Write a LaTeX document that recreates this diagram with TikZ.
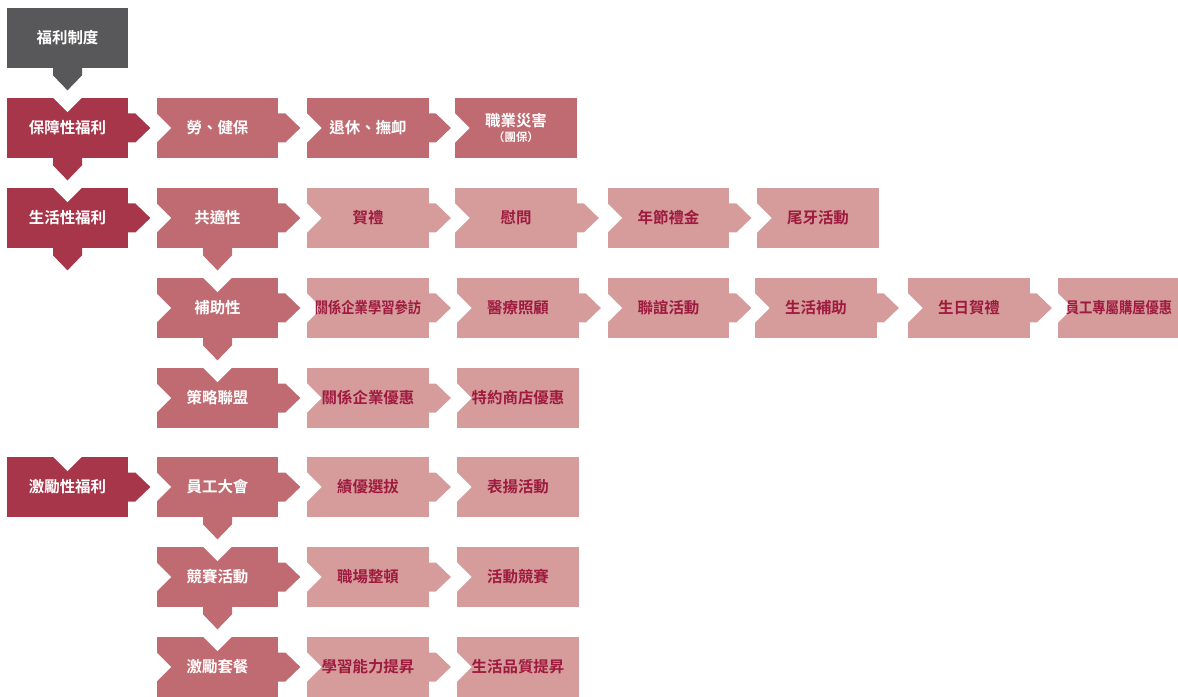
\documentclass[tikz,border=0pt]{standalone}
\usepackage{fontspec}
\usepackage{graphicx}
\usetikzlibrary{backgrounds}
\newfontfamily\cjk{Noto Sans CJK TC Bold}
\definecolor{headgray}{RGB}{88,88,90}
\definecolor{lvonered}{RGB}{168,54,74}
\definecolor{lvtwored}{RGB}{192,107,113}
\definecolor{lvthreepink}{RGB}{213,156,155}
\definecolor{lvthreetext}{RGB}{158,26,62}

\tikzset{
  welfare/.style={minimum width=24.2mm, minimum height=12mm, inner sep=0pt,
    text=white, font=\cjk\fontsize{8.8pt}{10pt}\selectfont},
  lvthree/.style={welfare, text=lvthreetext},
}

% arrow and notch pieces, in pixel units of the picture
\newcommand\toright[2]{\fill[#2] (#1.east) ++(-0.5,-14.5) -- ++(7.5,0) -- ++(15,14.5) -- ++(-15,14.5) -- ++(-7.5,0) -- cycle;}
\newcommand\todown[2]{\fill[#2] (#1.south) ++(-14.5,-0.5) -- ++(0,7.5) -- ++(14.5,15) -- ++(14.5,-15) -- ++(0,-7.5) -- cycle;}
\newcommand\leftcut[1]{\fill[white] (#1.west) ++(-1,-15.5) -- ++(15.5,15.5) -- ++(-15.5,15.5) -- cycle;}
\newcommand\topcut[1]{\fill[white] (#1.north) ++(-15.5,-1) -- ++(15.5,15.5) -- ++(15.5,-15.5) -- cycle;}
\newcommand\narrow[1]{\scalebox{0.86}[1]{#1}}

\begin{document}
\begin{tikzpicture}[x=0.2mm, y=-0.2mm]
  \useasboundingbox (0,0) rectangle (1178,697);

  \node[welfare] (sys) at (67.5,38) {福利制度};

  % row 1
  \node[welfare] (prot) at (67.5,128) {保障性福利};
  \node[welfare] (ins) at (217.5,128) {勞、健保};
  \node[welfare] (ret) at (368,128) {退休、撫卹};
  \node[welfare, align=center] (occ) at (516,128)
    {職業災害\\[-1pt]{\fontsize{6.5pt}{7pt}\selectfont （團保）}};

  % row 2
  \node[welfare] (life) at (67.5,218) {生活性福利};
  \node[welfare] (gen) at (217.5,218) {共適性};
  \node[lvthree] (gift) at (368,218) {賀禮};
  \node[lvthree] (care) at (516,218) {慰問};
  \node[lvthree] (fest) at (668.5,218) {年節禮金};
  \node[lvthree] (party) at (818,218) {尾牙活動};

  % row 3
  \node[welfare] (aid) at (217.5,308) {補助性};
  \node[lvthree] (visit) at (368,308) {\narrow{關係企業學習參訪}};
  \node[lvthree] (med) at (518,308) {醫療照顧};
  \node[lvthree] (club) at (668.5,308) {聯誼活動};
  \node[lvthree] (subsidy) at (816,308) {生活補助};
  \node[lvthree] (bday) at (969,308) {生日賀禮};
  \node[lvthree] (house) at (1119,308) {\narrow{員工專屬購屋優惠}};

  % row 4
  \node[welfare] (ally) at (217.5,398) {策略聯盟};
  \node[lvthree] (corp) at (368,398) {關係企業優惠};
  \node[lvthree] (shop) at (518,398) {特約商店優惠};

  % row 5
  \node[welfare] (motiv) at (67.5,487) {激勵性福利};
  \node[welfare] (meet) at (217.5,487) {員工大會};
  \node[lvthree] (merit) at (368,487) {績優選拔};
  \node[lvthree] (praise) at (518,487) {表揚活動};

  % row 6
  \node[welfare] (contest) at (217.5,577) {競賽活動};
  \node[lvthree] (tidy) at (368,577) {職場整頓};
  \node[lvthree] (game) at (518,577) {活動競賽};

  % row 7
  \node[welfare] (pack) at (217.5,667) {激勵套餐};
  \node[lvthree] (learn) at (368,667) {學習能力提昇};
  \node[lvthree] (quality) at (518,667) {生活品質提昇};

  \begin{scope}[on background layer]
    % box fills
    \fill[headgray] (sys.north west) rectangle (sys.south east);
    \foreach \n in {prot,life,motiv}
      {\fill[lvonered] (\n.north west) rectangle (\n.south east);}
    \foreach \n in {ins,ret,occ,gen,aid,ally,meet,contest,pack}
      {\fill[lvtwored] (\n.north west) rectangle (\n.south east);}
    \foreach \n in {gift,care,fest,party,visit,med,club,subsidy,bday,house,
        corp,shop,merit,praise,tidy,game,learn,quality}
      {\fill[lvthreepink] (\n.north west) rectangle (\n.south east);}

    % downward arrows
    \todown{sys}{headgray}
    \foreach \n in {prot,life} {\todown{\n}{lvonered}}
    \foreach \n in {gen,aid,meet,contest} {\todown{\n}{lvtwored}}

    % rightward arrows
    \foreach \n in {prot,life,motiv} {\toright{\n}{lvonered}}
    \foreach \n in {ins,ret,gen,aid,ally,meet,contest,pack} {\toright{\n}{lvtwored}}
    \foreach \n in {gift,care,fest,visit,med,club,subsidy,bday,corp,merit,tidy,learn}
      {\toright{\n}{lvthreepink}}

    % notches
    \foreach \n in {prot,life,motiv,aid,ally,contest,pack} {\topcut{\n}}
    \foreach \n in {ins,ret,occ,gen,gift,care,fest,party,aid,visit,med,club,
        subsidy,bday,house,ally,corp,shop,meet,merit,praise,contest,tidy,game,
        pack,learn,quality}
      {\leftcut{\n}}
  \end{scope}
\end{tikzpicture}
\end{document}
